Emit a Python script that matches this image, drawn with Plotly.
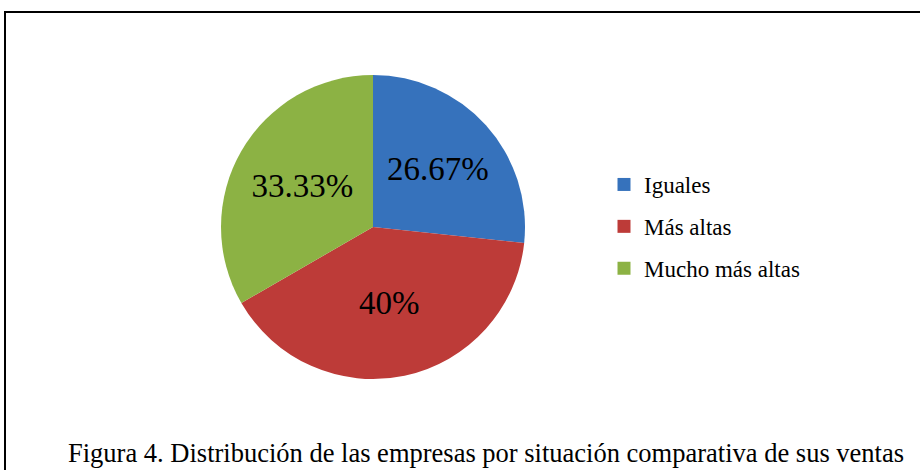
import plotly.graph_objects as go

categories = ["Iguales", "Más altas", "Mucho más altas"]
values = [26.67, 40.0, 33.33]
value_labels = ["26.67%", "40%", "33.33%"]
colors = ["#3672BC", "#BD3B38", "#8CB244"]
caption = "Figura 4. Distribución de las empresas por situación comparativa de sus ventas"

W, H = 920, 470
cx, cy, r = 373, 227, 152
SERIF = "Liberation Serif, Times New Roman, serif"

fig = go.Figure()
fig.add_trace(go.Pie(
    labels=categories, values=values, text=value_labels,
    textinfo="text", textposition="inside", insidetextorientation="horizontal",
    insidetextfont=dict(family=SERIF, size=33, color="black"),
    marker=dict(colors=colors, line=dict(width=0)),
    sort=False, direction="clockwise", rotation=0,
    domain=dict(x=[(cx - r) / W, (cx + r) / W], y=[1 - (cy + r) / H, 1 - (cy - r) / H]),
    showlegend=False, hoverinfo="label+percent",
))
for cat, col in zip(categories, colors):
    fig.add_trace(go.Scatter(
        x=[None], y=[None], mode="markers", name=cat, legendgroup=cat,
        marker=dict(symbol="square", size=13, color=col),
    ))

fig.update_layout(
    width=W, height=H, margin=dict(l=0, r=0, t=0, b=0),
    font=dict(family=SERIF, color="black"),
    paper_bgcolor="white", plot_bgcolor="white",
    xaxis=dict(visible=False), yaxis=dict(visible=False),
    legend=dict(
        x=604 / W, y=1 - 163 / H, xanchor="left", yanchor="top",
        font=dict(family=SERIF, size=23, color="black"),
        tracegroupgap=9, itemwidth=30, bgcolor="rgba(0,0,0,0)",
    ),
    shapes=[dict(type="rect", xref="paper", yref="paper",
                 x0=5 / W, x1=1.02, y0=-0.02, y1=1 - 12 / H,
                 line=dict(color="black", width=2))],
    annotations=[dict(text=caption, xref="paper", yref="paper",
                      x=486 / W, y=1 - 453 / H, xanchor="center", yanchor="middle",
                      showarrow=False,
                      font=dict(family=SERIF, size=26.5, color="black"))],
)
fig.write_html("out.html", config={"displayModeBar": False},
               post_script="document.body.style.margin='0';document.body.style.padding='0';")
